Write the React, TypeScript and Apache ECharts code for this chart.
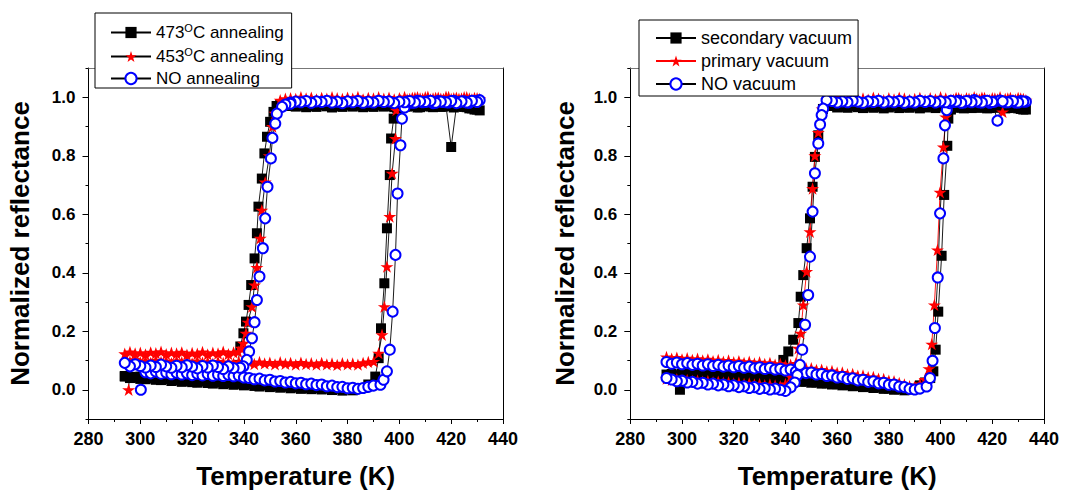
import React, { useEffect, useRef } from 'react';
import * as echarts from 'echarts';

// ---------- Temperature grids (K) ----------
const L_HEAT_LOW_T = [294,296,298,300,302,304,306,308,310,312,314,316,318,320,322,324,326,328,330,332,334,336,338,340,342,344,346,348,350,352,354,356,358,360,362,364,366,368,370,372,374,376,378,380,382,384,386,388];
const L_HEAT_TOP_T = [403,405,407,409,411,413,415,417,419,421,423,425,427,429,431];
const L_COOL_TOP_T = [430,428,426,424,422,420,418,416,414,412,410,408,406,404,402,400,398,396,394,392,390,388,386,384,382,380,378,376,374,372,370,368,366,364,362,360,358];
const L_COOL_LOW_T = [336,334,332,330,328,326,324,322,320,318,316,314,312,310,308,306,304,302,300,298,296,294];

const R_HEAT_LOW_T = [294,296,298,300,302,304,306,308,310,312,314,316,318,320,322,324,326,328,330,332,334,336,338,340,342,344,346,348,350,352,354,356,358,360,362,364,366,368,370,372,374,376,378,380,382,384,386,388,390,392];
const R_HEAT_TOP_T = [405,407,409,411,413,415,417,419,421,423,425,427,429,431,433];
const R_COOL_TOP_T = [432,430,428,426,424,422,420,418,416,414,412,410,408,406,404,402,400,398,396,394,392,390,388,386,384,382,380,378,376,374,372,370,368,366,364,362,360,358];
const R_COOL_LOW_T = [342,340,338,336,334,332,330,328,326,324,322,320,318,316,314,312,310,308,306,304,302,300,298,296,294];

// ---------- Left panel: 473°C annealing (black squares) ----------
const a473HeatLow = [.045,.040,.043,.037,.036,.040,.034,.033,.036,.030,.032,.027,.030,.026,.024,.028,.023,.021,.025,.019,.022,.017,.020,.015,.018,.013,.011,.015,.009,.012,.007,.010,.005,.008,.003,.006,.002,.005,.001,.004,-.001,.003,-.003,.001,-.002,.003,.006,.018];
const a473HeatTrans = [[390.7,.045],[392,.108],[392.9,.21],[394.2,.364],[395.2,.552],[396.3,.734],[396.8,.859],[397.8,.927],[399.2,.962],[401,.968]];
const a473HeatTop = [.968,.972,.965,.970,.974,.966,.971,.968,.973,.965,.970,.967,.962,.958,.955];
const a473CoolTop = [.958,.962,.966,.970,.968,.830,.970,.967,.972,.968,.971,.966,.970,.973,.968,.971,.966,.970,.968,.972,.967,.970,.966,.971,.968,.972,.967,.970,.965,.969,.972,.967,.970,.966,.971,.968,.970];
const a473CoolTrans = [[356,.972],[354,.975],[352.6,.97],[351.4,.95],[350.1,.916],[348.9,.865],[347.9,.808],[346.9,.722],[345.6,.626],[345,.535],[344.1,.449],[342.8,.358],[341.8,.29],[340.8,.233],[339.8,.193],[338.6,.148],[337.6,.085]];
const a473CoolLow = [.045,.040,.042,.038,.040,.036,.039,.035,.037,.040,.036,.038,.041,.037,.040,.043,.039,.042,.045,.041,.044,.047];

// ---------- Left panel: 453°C annealing (red stars) ----------
const a453Start = [[295.5,0]];
const a453HeatLow = [.096,.103,.094,.099,.092,.101,.095,.098,.091,.099,.094,.097,.090,.098,.093,.096,.089,.097,.092,.095,.090,.096,.091,.094,.088,.095,.090,.093,.087,.094,.089,.092,.086,.093,.088,.091,.086,.092,.087,.090,.085,.091,.087,.090,.086,.092,.095];
const a453HeatTrans = [[390.1,.097],[392,.125],[393.3,.188],[394.2,.284],[395.2,.421],[396.3,.592],[397.2,.74],[398.5,.859],[398.8,.956],[400.5,.99]];
const a453HeatTop = [.993,.998,1.0,.995,1.002,.996,.999,.994,1.001,.997,.995,1.0,.996,.998,.994];
const a453CoolTop = [.997,.993,1.0,.996,.999,.994,1.002,.995,.998,.993,1.0,.996,.999,.994,1.001,.997,.993,.999,.995,1.0,.996,.998,.993,1.001,.995,.999,.994,.997,1.0,.995,.998,.993,.999,.996,1.0,.994,.997];
const a453CoolTrans = [[356,.995],[354,.99],[352,.945],[351,.9],[349.8,.8],[348.2,.71],[346.9,.614],[346.3,.518],[345,.418],[344.1,.358],[343.1,.284],[341.5,.231],[340.8,.193],[339.8,.159],[338.9,.142],[337.8,.13]];
const a453CoolLow = [.128,.122,.130,.124,.127,.121,.129,.123,.126,.120,.128,.124,.127,.122,.130,.125,.128,.121,.127,.124,.129,.123];

// ---------- Left panel: NO annealing (blue open circles) ----------
const aNoStart = [[300.2,0]];
const aNoHeatLow = [.060,.056,.062,.055,.059,.053,.058,.052,.056,.050,.055,.049,.054,.048,.052,.047,.051,.046,.049,.042,.040,.036,.038,.032,.034,.028,.030,.025,.027,.022,.024,.019,.021,.016,.018,.012,.014,.009,.010,.005,.007,.003,.006,.010];
const aNoHeatTrans = [[390,.014],[392.7,.017],[393.9,.034],[395.2,.063],[396.3,.137],[397.4,.267],[398.5,.461],[399.3,.671],[400.4,.836],[401,.927],[402,.965]];
const aNoHeatTop = [.985,.981,.988,.983,.986,.980,.987,.984,.982,.988,.983,.986,.981,.987,.990];
const aNoCoolTop = [.984,.988,.982,.986,.980,.987,.983,.985,.981,.988,.984,.986,.982,.987,.983,.985,.980,.986,.984,.988,.982,.985,.981,.987,.983,.986,.980,.985,.982,.988,.984,.986,.981,.987,.983,.985,.982];
const aNoCoolTrans = [[357.9,.978],[356,.975],[354.7,.967],[352.7,.944],[352.1,.91],[351,.861],[350.4,.791],[349.1,.694],[348.2,.586],[347.3,.484],[346,.387],[345,.307],[344.1,.231],[343.1,.176],[342,.131],[341.1,.102],[339.8,.08],[338.5,.075]];
const aNoCoolLow = [.074,.080,.071,.078,.083,.076,.081,.073,.079,.084,.077,.082,.075,.080,.086,.078,.083,.076,.081,.087,.080,.092];

// ---------- Right panel: secondary vacuum (black squares) ----------
const vSecStart = [[299.2,0]];
const vSecHeatLow = [.056,.052,.055,.050,.053,.048,.051,.046,.049,.044,.047,.042,.045,.040,.043,.038,.041,.036,.039,.033,.030,.031,.027,.028,.024,.025,.021,.022,.018,.019,.015,.016,.012,.013,.009,.010,.006,.007,.003,.004,.000,.002,-.002,.001,.004,.015];
const vSecHeatTrans = [[394,.025],[396,.04],[397.2,.063],[398.1,.137],[399.1,.267],[400.4,.458],[401.4,.666],[402.6,.834],[403,.927],[404,.958]];
const vSecHeatTop = [.965,.968,.962,.967,.970,.964,.968,.963,.969,.966,.962,.967,.964,.960,.958];
const vSecCoolTop = [.958,.962,.966,.963,.968,.964,.967,.962,.969,.965,.963,.968,.964,.967,.962,.966,.969,.963,.967,.965,.962,.968,.964,.966,.963,.969,.965,.962,.967,.964,.968,.963,.966,.969,.964,.967,.965,.970];
const vSecCoolTrans = [[356,.972],[354.5,.96],[352.7,.87],[351.4,.796],[350.5,.694],[349.5,.586],[348.2,.484],[346.9,.392],[345.9,.318],[345,.228],[343,.171],[341.1,.131],[339.2,.102]];
const vSecCoolLow = [.062,.056,.058,.053,.057,.052,.055,.050,.054,.051,.056,.052,.055,.050,.054,.049,.053,.051,.055,.050,.054,.052];

// ---------- Right panel: primary vacuum (red stars) ----------
const vPriHeatLow = [.112,.106,.110,.104,.108,.102,.106,.100,.104,.098,.102,.096,.100,.094,.098,.092,.096,.090,.094,.088,.092,.086,.089,.083,.086,.079,.077,.073,.074,.068,.069,.063,.064,.058,.059,.053,.054,.048,.049,.043,.044,.038,.037,.031,.029,.023,.018,.012,.010,.020];
const vPriHeatTrans = [[394,.035],[395.5,.072],[396.6,.156],[397.6,.29],[398.8,.478],[399.8,.675],[401.1,.83],[402,.933],[403.2,.975]];
const vPriHeatTop = [.992,.997,.990,.995,1.0,.993,.998,.991,.996,1.0,.994,.998,.992,.996,.990];
const vPriCoolTop = [.994,.998,.991,.996,.950,.993,.997,.990,.999,.995,.992,.997,.993,.998,.991,.996,1.0,.993,.997,.990,.998,.994,.991,.996,.999,.993,.997,.990,.995,.999,.992,.996,.993,.998,.991,.995,.999,.994];
const vPriCoolTrans = [[356,.99],[354.2,.96],[352.7,.88],[351.4,.8],[350.5,.688],[349.5,.54],[348.2,.404],[346.9,.29],[345.9,.193],[345,.142],[344,.09]];
const vPriCoolLow = [.045,.020,.012,.015,.018,.016,.020,.018,.022,.020,.024,.022,.026,.024,.028,.026,.030,.028,.032,.030,.034,.032,.036,.034,.038];

// ---------- Right panel: NO vacuum (blue open circles) ----------
const vNoHeatLow = [.095,.089,.093,.087,.091,.085,.089,.083,.087,.081,.085,.079,.083,.077,.081,.075,.079,.073,.077,.071,.075,.069,.072,.066,.069,.062,.064,.057,.059,.052,.054,.047,.049,.042,.044,.037,.039,.032,.034,.027,.029,.022,.024,.017,.018,.011,.009,.003,.001,.004];
const vNoHeatTrans = [[394.6,.011],[395.9,.04],[396.9,.099],[397.8,.211],[398.9,.384],[399.8,.603],[401.1,.791],[401.7,.904],[402.4,.956],[403.5,.98]];
const vNoHeatTop = [.984,.988,.982,.986,.990,.983,.987,.981,.985,.989,.983,.986,.982,.987,.985];
const vNoCoolTop = [.985,.982,.987,.983,.986,.920,.984,.988,.982,.986,.983,.987,.981,.985,.988,.983,.986,.982,.987,.984,.988,.982,.985,.981,.987,.983,.986,.982,.988,.984,.986,.981,.985,.988,.983,.986,.982,.987];
const vNoCoolTrans = [[355.9,.99],[354.6,.961],[354,.939],[353.4,.907],[352.7,.842],[351.4,.74],[350.5,.609],[349.5,.455],[348.8,.324],[347.6,.222],[346.5,.137],[345.6,.085],[344.6,.05],[343.6,.025]];
const vNoCoolLow = [.008,-.004,.000,.004,.001,.006,.003,.009,.006,.012,.009,.015,.012,.018,.015,.021,.018,.024,.021,.027,.025,.031,.029,.035,.040];

// ---------- Axis ticks ----------
const X_MIN = 280, X_MAX = 440, X_STEP = 20;
const Y_MAJOR = [0, 0.2, 0.4, 0.6, 0.8, 1.0];
const Y_MINOR = [-0.1, 0.1, 0.3, 0.5, 0.7, 0.9, 1.1];

const LEFT_NAMES = ['473°C annealing', '453°C annealing', 'NO annealing'];
const RIGHT_NAMES = ['secondary vacuum', 'primary vacuum', 'NO vacuum'];

const FONT = '"Liberation Sans", Arial, Helvetica, sans-serif';
const STAR = 'path://M50,0 L61.8,35.3 L98.9,35.3 L68.9,57.1 L80.2,92.7 L50,70.8 L19.8,92.7 L31.1,57.1 L1.1,35.3 L38.2,35.3 Z';

function zip(ts: number[], vs: number[]): number[][] {
  const off = ts.length - vs.length;
  return vs.map((v, i) => [ts[i + off], v]);
}

function loop(grids: number[][], parts: any): number[][] {
  const [hl, ht, ct, cl] = grids;
  return [
    ...(parts.start || []),
    ...zip(hl, parts.heatLow),
    ...parts.heatTrans,
    ...zip(ht, parts.heatTop),
    ...zip(ct, parts.coolTop),
    ...parts.coolTrans,
    ...zip(cl, parts.coolLow),
  ];
}

const LG = [L_HEAT_LOW_T, L_HEAT_TOP_T, L_COOL_TOP_T, L_COOL_LOW_T];
const RG = [R_HEAT_LOW_T, R_HEAT_TOP_T, R_COOL_TOP_T, R_COOL_LOW_T];

const dA473 = loop(LG, { heatLow: a473HeatLow, heatTrans: a473HeatTrans, heatTop: a473HeatTop, coolTop: a473CoolTop, coolTrans: a473CoolTrans, coolLow: a473CoolLow });
const dA453 = loop(LG, { start: a453Start, heatLow: a453HeatLow, heatTrans: a453HeatTrans, heatTop: a453HeatTop, coolTop: a453CoolTop, coolTrans: a453CoolTrans, coolLow: a453CoolLow });
const dANo = loop(LG, { start: aNoStart, heatLow: aNoHeatLow, heatTrans: aNoHeatTrans, heatTop: aNoHeatTop, coolTop: aNoCoolTop, coolTrans: aNoCoolTrans, coolLow: aNoCoolLow });
const dVSec = loop(RG, { start: vSecStart, heatLow: vSecHeatLow, heatTrans: vSecHeatTrans, heatTop: vSecHeatTop, coolTop: vSecCoolTop, coolTrans: vSecCoolTrans, coolLow: vSecCoolLow });
const dVPri = loop(RG, { heatLow: vPriHeatLow, heatTrans: vPriHeatTrans, heatTop: vPriHeatTop, coolTop: vPriCoolTop, coolTrans: vPriCoolTrans, coolLow: vPriCoolLow });
const dVNo = loop(RG, { heatLow: vNoHeatLow, heatTrans: vNoHeatTrans, heatTop: vNoHeatTop, coolTop: vNoCoolTop, coolTrans: vNoCoolTrans, coolLow: vNoCoolLow });

function buildOption() {
  const axisTitle = { fontSize: 26, fontWeight: 'bold', color: '#000', fontFamily: FONT };
  const grids = [
    { left: 88.5, top: 68, width: 414.5, height: 351 },
    { left: 630.3, top: 68, width: 413.7, height: 351 },
  ];
  const xAxes: any[] = [];
  const yAxes: any[] = [];
  const yGaps = [56, 52];
  grids.forEach((_, gi) => {
    xAxes.push({
      type: 'value', gridIndex: gi, min: X_MIN, max: X_MAX, interval: X_STEP, position: 'bottom',
      axisLine: { show: true, onZero: false, lineStyle: { color: '#000', width: 1 } },
      axisTick: { show: true, inside: false, length: 5, lineStyle: { color: '#000', width: 1 } },
      minorTick: { show: true, splitNumber: 2, length: 3, lineStyle: { color: '#000', width: 1 } },
      splitLine: { show: false },
      axisLabel: { fontSize: 18, fontWeight: 'bold', color: '#000', fontFamily: FONT, margin: 11 },
      name: 'Temperature (K)', nameLocation: 'middle', nameGap: 44, nameTextStyle: axisTitle,
    });
    xAxes.push({
      type: 'value', gridIndex: gi, min: X_MIN, max: X_MAX, position: 'top',
      axisLine: { show: true, onZero: false, lineStyle: { color: '#777', width: 1 } },
      axisTick: { show: false }, axisLabel: { show: false }, splitLine: { show: false },
    });
    yAxes.push({
      type: 'value', gridIndex: gi, min: -0.1, max: 1.1, position: 'left',
      axisLine: { show: true, onZero: false, lineStyle: { color: '#000', width: 1 } },
      axisTick: { show: true, inside: false, length: 6, customValues: Y_MAJOR, lineStyle: { color: '#000', width: 1 } },
      axisLabel: { customValues: Y_MAJOR, formatter: (v: number) => v.toFixed(1), fontSize: 17, fontWeight: 'bold', color: '#000', fontFamily: FONT, margin: 13 },
      splitLine: { show: false },
      name: 'Normalized reflectance', nameLocation: 'middle', nameGap: yGaps[gi], nameTextStyle: axisTitle,
    });
    yAxes.push({
      type: 'value', gridIndex: gi, min: -0.1, max: 1.1, position: 'left',
      axisLine: { show: false, onZero: false },
      axisTick: { show: true, inside: false, length: 3, customValues: Y_MINOR, lineStyle: { color: '#000', width: 1 } },
      axisLabel: { show: false }, splitLine: { show: false },
    });
    yAxes.push({
      type: 'value', gridIndex: gi, min: -0.1, max: 1.1, position: 'right',
      axisLine: { show: true, onZero: false, lineStyle: { color: '#000', width: 1 } },
      axisTick: { show: false }, axisLabel: { show: false }, splitLine: { show: false },
    });
  });

  const mk = (name: string, data: number[][], gi: number, kind: string, lineColor: string) => {
    const base: any = {
      name, type: 'line', data, xAxisIndex: gi * 2, yAxisIndex: gi * 3,
      showSymbol: true, symbolKeepAspect: true,
      lineStyle: { color: lineColor, width: 0.9 },
      emphasis: { disabled: true }, silent: true, clip: true,
    };
    if (kind === 'sq') {
      base.symbol = 'rect'; base.symbolSize = 10;
      base.itemStyle = { color: '#000' };
    } else if (kind === 'star') {
      base.symbol = STAR; base.symbolSize = 13;
      base.itemStyle = { color: '#ff0000' };
    } else {
      base.symbol = 'circle'; base.symbolSize = 10;
      base.itemStyle = { color: '#ffffff', borderColor: '#0000ff', borderWidth: 2 };
    }
    return base;
  };

  const series = [
    mk(LEFT_NAMES[0], dA473, 0, 'sq', '#000'),
    mk(LEFT_NAMES[1], dA453, 0, 'star', '#000'),
    mk(LEFT_NAMES[2], dANo, 0, 'circ', '#000'),
    mk(RIGHT_NAMES[0], dVSec, 1, 'sq', '#000'),
    mk(RIGHT_NAMES[1], dVPri, 1, 'star', '#ff0000'),
    mk(RIGHT_NAMES[2], dVNo, 1, 'circ', '#000'),
  ];

  const legendText = (fs: number, ss: number) => ({
    fontSize: fs, color: '#000', fontFamily: FONT,
    rich: {
      n: { fontSize: fs, color: '#000', fontFamily: FONT },
      s: { fontSize: ss, color: '#000', fontFamily: FONT, padding: [0, 0, 10, 0] },
    },
  });
  const fmt = (name: string) => {
    const m = name.match(/^(\d+)°C (.*)$/);
    if (m) return '{n|' + m[1] + '}{s|O}{n|C ' + m[2] + '}';
    return '{n|' + name + '}';
  };
  const legendBase = {
    orient: 'vertical', itemWidth: 40, itemHeight: 14, itemGap: 5,
    borderColor: '#000', borderWidth: 1, backgroundColor: '#fff',
    selectedMode: false, formatter: fmt, z: 10,
  };

  return {
    animation: false,
    backgroundColor: '#fff',
    grid: grids,
    xAxis: xAxes,
    yAxis: yAxes,
    legend: [
      { ...legendBase, data: LEFT_NAMES, left: 95, top: 13, padding: [9, 8, 1, 15], textStyle: legendText(17, 11) },
      { ...legendBase, data: RIGHT_NAMES, left: 639, top: 20, padding: [9, 6, 3, 16], textStyle: legendText(18, 12) },
    ],
    series,
  };
}

export default function App() {
  const ref = useRef<HTMLDivElement>(null);
  useEffect(() => {
    if (!ref.current) return;
    const chart = echarts.init(ref.current, undefined, { renderer: 'svg' });
    chart.setOption(buildOption() as any);
    return () => chart.dispose();
  }, []);
  return (
    <div
      ref={ref}
      style={{ position: 'absolute', left: 0, top: 0, width: 1085, height: 494, background: '#fff' }}
    />
  );
}
